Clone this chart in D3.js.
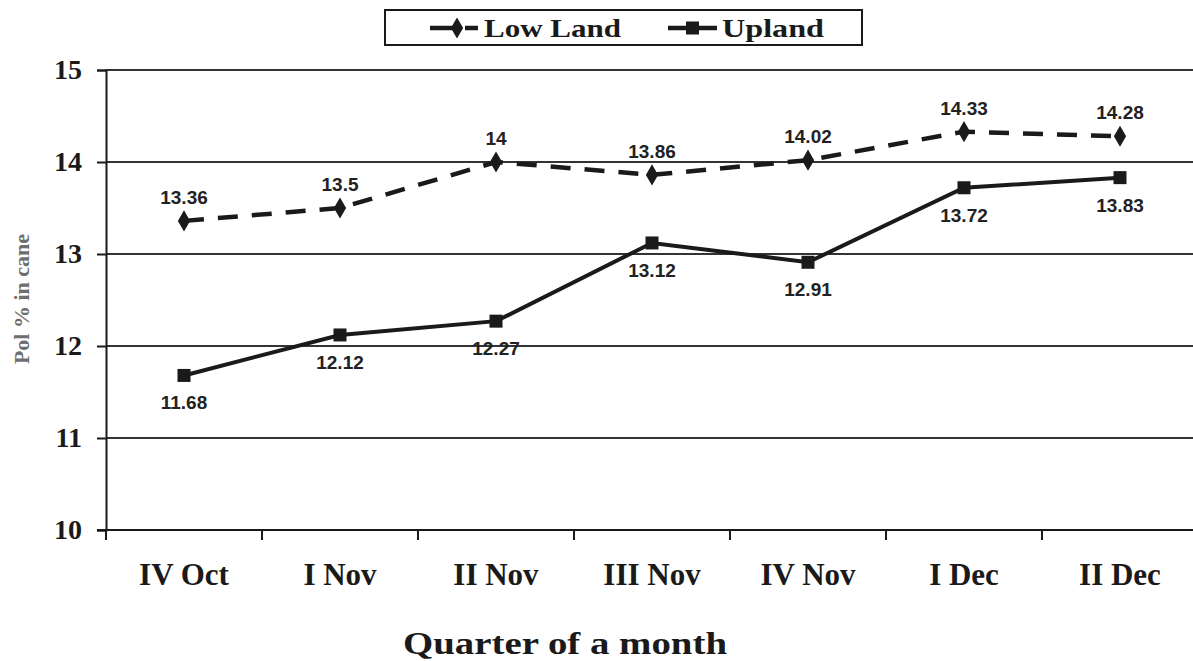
<!DOCTYPE html>
<html>
<head>
<meta charset="utf-8">
<script src="https://cdn.jsdelivr.net/npm/d3@7"></script>
<style>
  html, body { margin: 0; padding: 0; background: #fff; }
  svg { display: block; }
</style>
</head>
<body>
<svg id="chart" width="1193" height="661"></svg>
<script>
// Pol % in cane by quarter of month, low land vs upland
const categories = ["IV Oct", "I Nov", "II Nov", "III Nov", "IV Nov", "I Dec", "II Dec"];
const lowLand = [13.36, 13.5, 14, 13.86, 14.02, 14.33, 14.28];
const upland = [11.68, 12.12, 12.27, 13.12, 12.91, 13.72, 13.83];
const yTicks = [10, 11, 12, 13, 14, 15];

const svg = d3.select("#chart");
const plotLeft = 106, plotRight = 1198, plotTop = 70, plotBottom = 530;

const x = d3.scaleBand().domain(categories).range([plotLeft, plotRight]);
const y = d3.scaleLinear().domain([10, 15]).range([plotBottom, plotTop]);
const cx = d => x(d) + x.bandwidth() / 2;

const serif = "'Liberation Serif', 'Times New Roman', serif";
const sans = "'Liberation Sans', Arial, sans-serif";
const ink = "#1a1a1a";

// horizontal gridlines
svg.append("g").selectAll("line")
  .data(yTicks.filter(t => t > 10))
  .join("line")
  .attr("x1", plotLeft).attr("x2", 1193)
  .attr("y1", d => y(d)).attr("y2", d => y(d))
  .attr("stroke", "#333").attr("stroke-width", 2);

// y axis
const yAxis = svg.append("g")
  .attr("transform", `translate(${plotLeft},0)`)
  .call(d3.axisLeft(y).tickValues(yTicks).tickSize(9).tickPadding(15).tickFormat(d3.format("d")));
yAxis.select(".domain").attr("stroke", ink).attr("stroke-width", 2);
yAxis.selectAll(".tick line").attr("stroke", ink).attr("stroke-width", 2);
yAxis.selectAll("text")
  .style("font-family", serif).style("font-weight", "bold")
  .style("font-size", "28px").attr("fill", ink);

// x axis with ticks on category boundaries
const xAxis = svg.append("g").attr("transform", `translate(0,${plotBottom})`);
xAxis.append("line").attr("x1", plotLeft - 9).attr("x2", 1193)
  .attr("stroke", ink).attr("stroke-width", 2);
xAxis.selectAll("line.tk")
  .data(categories.map(c => x(c)))
  .join("line").attr("class", "tk")
  .attr("x1", d => d).attr("x2", d => d)
  .attr("y1", 0).attr("y2", 10)
  .attr("stroke", ink).attr("stroke-width", 2);
xAxis.selectAll("text")
  .data(categories)
  .join("text")
  .attr("x", d => cx(d)).attr("y", 55)
  .attr("text-anchor", "middle")
  .attr("font-family", serif).attr("font-weight", "bold")
  .attr("font-size", 31).attr("fill", ink)
  .text(d => d);

// axis titles
svg.append("text")
  .attr("x", 565).attr("y", 654)
  .attr("text-anchor", "middle")
  .attr("font-family", serif).attr("font-weight", "bold")
  .attr("font-size", 32).attr("fill", ink)
  .attr("textLength", 324).attr("lengthAdjust", "spacingAndGlyphs")
  .text("Quarter of a month");

svg.append("text")
  .attr("transform", "translate(29,299) rotate(-90)")
  .attr("text-anchor", "middle")
  .attr("font-family", serif).attr("font-weight", "bold")
  .attr("font-size", 22).attr("fill", "#6e6e6e")
  .text("Pol % in cane");

// series lines
const line = d3.line().x((d, i) => cx(categories[i])).y(d => y(d));

svg.append("path").datum(lowLand)
  .attr("d", line).attr("fill", "none")
  .attr("stroke", ink).attr("stroke-width", 4.5)
  .attr("stroke-dasharray", "20,14");

svg.append("path").datum(upland)
  .attr("d", line).attr("fill", "none")
  .attr("stroke", ink).attr("stroke-width", 4);

// markers
const diamond = d3.symbol().type(d3.symbolDiamond).size(130);
svg.append("g").selectAll("path")
  .data(lowLand).join("path")
  .attr("d", diamond)
  .attr("transform", (d, i) => `translate(${cx(categories[i])},${y(d)})`)
  .attr("fill", ink);

svg.append("g").selectAll("rect")
  .data(upland).join("rect")
  .attr("x", (d, i) => cx(categories[i]) - 6.5)
  .attr("y", d => y(d) - 6.5)
  .attr("width", 13).attr("height", 13)
  .attr("fill", ink);

// value labels
svg.append("g").selectAll("text")
  .data(lowLand).join("text")
  .attr("x", (d, i) => cx(categories[i]))
  .attr("y", d => y(d) - 17)
  .attr("text-anchor", "middle")
  .attr("font-family", sans).attr("font-weight", "bold")
  .attr("font-size", 19).attr("fill", "#222")
  .text(d => d);

svg.append("g").selectAll("text")
  .data(upland).join("text")
  .attr("x", (d, i) => cx(categories[i]))
  .attr("y", d => y(d) + 34)
  .attr("text-anchor", "middle")
  .attr("font-family", sans).attr("font-weight", "bold")
  .attr("font-size", 19).attr("fill", "#222")
  .text(d => d);

// legend
const lg = svg.append("g");
lg.append("rect").attr("x", 385).attr("y", 10).attr("width", 477).attr("height", 35)
  .attr("fill", "#fff").attr("stroke", ink).attr("stroke-width", 2);
const legendItems = [
  { name: "Low Land", x0: 430, dashed: true, textW: 137 },
  { name: "Upland", x0: 668, dashed: false, textW: 102 }
];
legendItems.forEach(it => {
  const ly = 28;
  if (it.dashed) {
    lg.append("line").attr("x1", it.x0).attr("x2", it.x0 + 24).attr("y1", ly).attr("y2", ly)
      .attr("stroke", ink).attr("stroke-width", 4.5);
    lg.append("line").attr("x1", it.x0 + 35).attr("x2", it.x0 + 48).attr("y1", ly).attr("y2", ly)
      .attr("stroke", ink).attr("stroke-width", 4.5);
    lg.append("path").attr("d", diamond).attr("transform", `translate(${it.x0 + 27},${ly})`).attr("fill", ink);
  } else {
    lg.append("line").attr("x1", it.x0).attr("x2", it.x0 + 49).attr("y1", ly).attr("y2", ly)
      .attr("stroke", ink).attr("stroke-width", 4.5);
    lg.append("rect").attr("x", it.x0 + 18).attr("y", ly - 6.5).attr("width", 13).attr("height", 13).attr("fill", ink);
  }
  lg.append("text").attr("x", it.x0 + 54).attr("y", ly + 9)
    .attr("font-family", serif).attr("font-weight", "bold")
    .attr("font-size", 26).attr("fill", ink)
    .attr("textLength", it.textW).attr("lengthAdjust", "spacingAndGlyphs")
    .text(it.name);
});
</script>
</body>
</html>
